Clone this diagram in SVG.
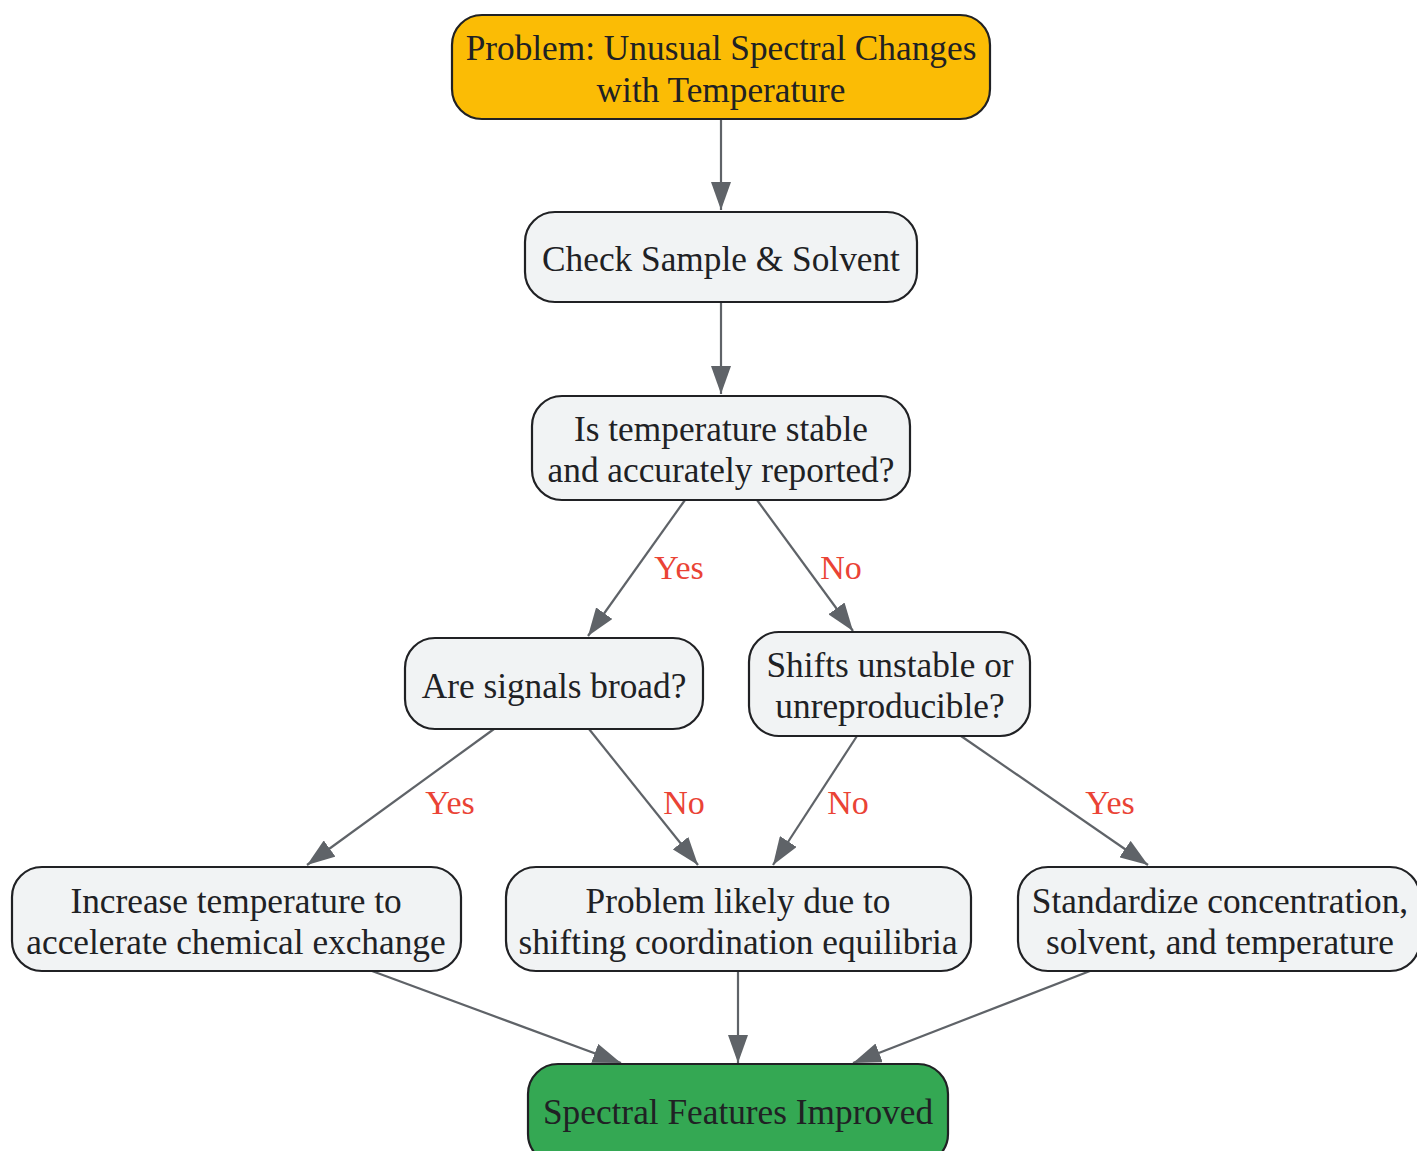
<svg xmlns="http://www.w3.org/2000/svg" width="1417" height="1151" viewBox="0 0 1417 1151">
<defs>
<style>
.node rect{stroke:#202124;stroke-width:2.2}
.std rect{fill:#F1F3F4}
.node text{font-family:"Liberation Serif","Times New Roman",serif;font-size:35.3px;fill:#202124;text-anchor:middle}
.edges path{stroke:#5F6368;stroke-width:2.2;fill:none;marker-end:url(#arr)}
.lbl{font-family:"Liberation Serif","Times New Roman",serif;font-size:34px;fill:#EA4335;text-anchor:middle}
</style>
<marker id="arr" viewBox="0 0 28 20" refX="28" refY="10" markerWidth="28" markerHeight="20" markerUnits="userSpaceOnUse" orient="auto">
<path d="M0,0 L28,10 L0,20 z" fill="#5F6368"/>
</marker>
</defs>
<rect width="1417" height="1151" fill="#FFFFFF"/>
<g class="edges">
<path d="M721,119 L721,210"/>
<path d="M721,302 L721,394"/>
<path d="M685,500 L588,636"/>
<path d="M757,500 L853,631"/>
<path d="M494,729 L307,865"/>
<path d="M589,729 L698,865"/>
<path d="M857,736 L773,865"/>
<path d="M961,736 L1148,865"/>
<path d="M372,971 L621,1063"/>
<path d="M738,971 L738,1063"/>
<path d="M1090,971 L853,1063"/>
</g>
<g class="labels">
<text class="lbl" x="679" y="579">Yes</text>
<text class="lbl" x="841" y="579">No</text>
<text class="lbl" x="450" y="814">Yes</text>
<text class="lbl" x="684" y="814">No</text>
<text class="lbl" x="848" y="814">No</text>
<text class="lbl" x="1110" y="814">Yes</text>
</g>
<g id="start" class="node">
<rect x="452" y="15" width="538" height="104" rx="30" fill="#FBBC05"/>
<text x="721" y="60">Problem: Unusual Spectral Changes</text>
<text x="721" y="102">with Temperature</text>
</g>
<g id="check" class="node std">
<rect x="525" y="212" width="392" height="90" rx="30"/>
<text x="721" y="271">Check Sample &amp; Solvent</text>
</g>
<g id="tempStable" class="node std">
<rect x="532" y="396" width="378" height="104" rx="30"/>
<text x="721" y="441">Is temperature stable</text>
<text x="721" y="482">and accurately reported?</text>
</g>
<g id="broad" class="node std">
<rect x="405" y="638" width="298" height="91" rx="30"/>
<text x="554" y="698">Are signals broad?</text>
</g>
<g id="shifts" class="node std">
<rect x="749" y="632" width="281" height="104" rx="30"/>
<text x="890" y="677">Shifts unstable or</text>
<text x="890" y="718">unreproducible?</text>
</g>
<g id="increase" class="node std">
<rect x="12" y="867" width="449" height="104" rx="30"/>
<text x="236" y="913">Increase temperature to</text>
<text x="236" y="954">accelerate chemical exchange</text>
</g>
<g id="likely" class="node std">
<rect x="506" y="867" width="465" height="104" rx="30"/>
<text x="738" y="913">Problem likely due to</text>
<text x="738" y="954">shifting coordination equilibria</text>
</g>
<g id="standardize" class="node std">
<rect x="1018" y="867" width="402" height="104" rx="30"/>
<text x="1220" y="913">Standardize concentration,</text>
<text x="1220" y="954">solvent, and temperature</text>
</g>
<g id="improved" class="node">
<rect x="528" y="1064" width="420" height="100" rx="30" fill="#34A853"/>
<text x="738" y="1124">Spectral Features Improved</text>
</g>
</svg>
